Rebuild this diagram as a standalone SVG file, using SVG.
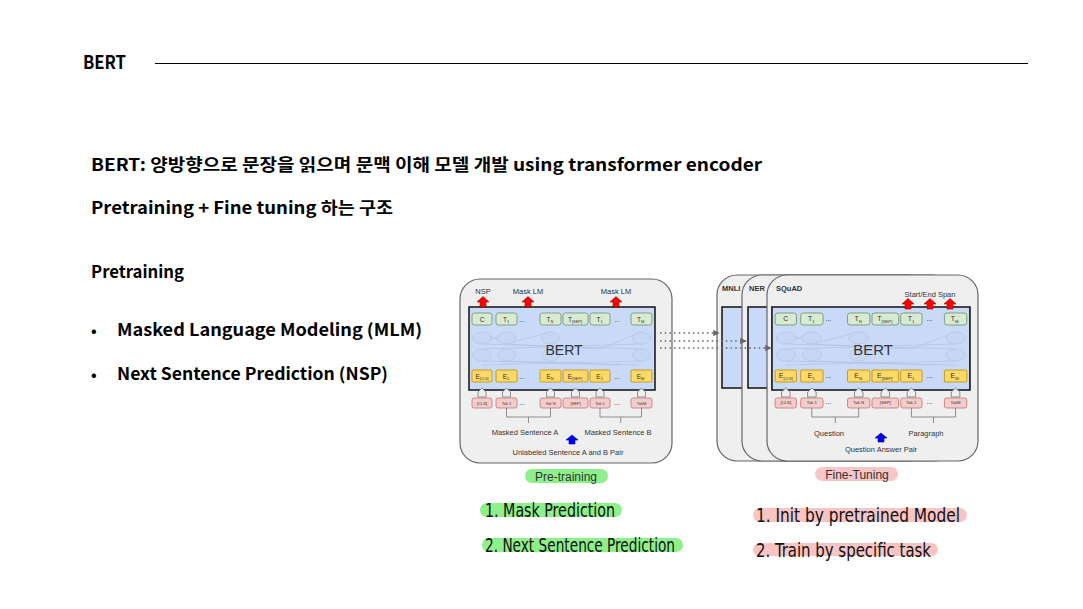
<svg xmlns="http://www.w3.org/2000/svg" xmlns:xlink="http://www.w3.org/1999/xlink" width="1083" height="609" viewBox="0 0 1083 609">
<style>
.kr{font-family:"Noto Sans CJK KR","Liberation Sans",sans-serif;font-weight:bold;fill:#000}
.d{font-family:"Liberation Sans",Arial,sans-serif;fill:#333}
.card{fill:#efefef;stroke:#666;stroke-width:1.2}
.blue{fill:#c9daf8;stroke:#111;stroke-width:1.5}
.tg{fill:#d9ead3;stroke:#6f8f66;stroke-width:0.8}
.ty{fill:#ffd966;stroke:#bf9000;stroke-width:0.8}
.tp{fill:#f4cccc;stroke:#c27777;stroke-width:0.8}
.sm{fill:#eeeeee;stroke:#777;stroke-width:0.8}
.faint{fill:#c6d7f6;stroke:#b3c3e2;stroke-width:0.7}
.fl{stroke:#b0bedb;stroke-width:0.6;fill:none}
.br{stroke:#777;stroke-width:0.8;fill:none}
.red{fill:#ff0000;stroke:#990000;stroke-width:0.6}
.bl{fill:#0000ff;stroke:#000088;stroke-width:0.6}
.hand{font-family:"Liberation Sans Narrow","DejaVu Sans Condensed","Liberation Sans",sans-serif;fill:#111}
.conn{stroke:#666;stroke-width:1.6;stroke-dasharray:1.5 3.2;fill:none}
</style>
<defs>
<marker id="ah" viewBox="0 0 10 10" refX="9" refY="5" markerWidth="4" markerHeight="4" orient="auto" markerUnits="strokeWidth">
<path d="M0 0 L10 5 L0 10 z" fill="#666"/>
</marker>
<g id="enc">
<rect class="blue" x="469" y="307" width="186" height="83"/>
<g class="fl">
<path d="M482 344 L641 349 M482 349 L641 344 M506 344 L600 349 M482 361 L641 365 M482 365 L641 361 M506 361 L620 365"/>
<path d="M482 332 L506 344 M506 332 L482 344 M550 332 L506 344 M641 332 L600 349"/>
</g>
<g class="faint">
<ellipse cx="482" cy="338" rx="9" ry="6"/><ellipse cx="506.5" cy="338" rx="9" ry="6"/><ellipse cx="550.5" cy="338" rx="9" ry="6"/><ellipse cx="641.5" cy="338" rx="9" ry="6"/>
<ellipse cx="482" cy="355" rx="9" ry="6"/><ellipse cx="506.5" cy="355" rx="9" ry="6"/><ellipse cx="550.5" cy="355" rx="9" ry="6"/><ellipse cx="641.5" cy="355" rx="9" ry="6"/>
</g>
<text class="d" x="564" y="355" font-size="14" text-anchor="middle" fill="#111">BERT</text>
<g>
<rect class="tg" x="472" y="313" width="20" height="12" rx="2.5"/>
<rect class="tg" x="496" y="313" width="21" height="12" rx="2.5"/>
<rect class="tg" x="540" y="313" width="21" height="12" rx="2.5"/>
<rect class="tg" x="563" y="313" width="25" height="12" rx="2.5"/>
<rect class="tg" x="590" y="313" width="20" height="12" rx="2.5"/>
<rect class="tg" x="631" y="313" width="21" height="12" rx="2.5"/>
<g class="d" font-size="6.5" text-anchor="middle">
<text x="482" y="321.5">C</text>
<text x="506" y="321.5">T<tspan font-size="4" dy="1.5">1</tspan></text>
<text x="522" y="321.5">...</text>
<text x="550" y="321.5">T<tspan font-size="4" dy="1.5">N</tspan></text>
<text x="575" y="321.5">T<tspan font-size="4" dy="1.5">[SEP]</tspan></text>
<text x="600" y="321.5">T<tspan font-size="4" dy="1.5">1</tspan><tspan font-size="4" dy="-4">'</tspan></text>
<text x="617" y="321.5">...</text>
<text x="641" y="321.5">T<tspan font-size="4" dy="1.5">M</tspan><tspan font-size="4" dy="-4">'</tspan></text>
</g>
</g>
<g>
<rect class="ty" x="472" y="370" width="20" height="12" rx="1"/>
<rect class="ty" x="496" y="370" width="21" height="12" rx="1"/>
<rect class="ty" x="540" y="370" width="21" height="12" rx="1"/>
<rect class="ty" x="563" y="370" width="25" height="12" rx="1"/>
<rect class="ty" x="590" y="370" width="20" height="12" rx="1"/>
<rect class="ty" x="631" y="370" width="21" height="12" rx="1"/>
<g class="d" font-size="6.5" text-anchor="middle">
<text x="482" y="378.5">E<tspan font-size="3.5" dy="1.5">[CLS]</tspan></text>
<text x="506" y="378.5">E<tspan font-size="4" dy="1.5">1</tspan></text>
<text x="522" y="378.5">...</text>
<text x="550" y="378.5">E<tspan font-size="4" dy="1.5">N</tspan></text>
<text x="575" y="378.5">E<tspan font-size="4" dy="1.5">[SEP]</tspan></text>
<text x="600" y="378.5">E<tspan font-size="4" dy="1.5">1</tspan><tspan font-size="4" dy="-4">'</tspan></text>
<text x="617" y="378.5">...</text>
<text x="641" y="378.5">E<tspan font-size="4" dy="1.5">M</tspan><tspan font-size="4" dy="-4">'</tspan></text>
</g>
</g>
<g class="sm">
<path d="M478 397 V392 L482 388 L486 392 V397 z"/>
<path d="M502.5 397 V392 L506.5 388 L510.5 392 V397 z"/>
<path d="M546.5 397 V392 L550.5 388 L554.5 392 V397 z"/>
<path d="M571.5 397 V392 L575.5 388 L579.5 392 V397 z"/>
<path d="M596 397 V392 L600 388 L604 392 V397 z"/>
<path d="M637.5 397 V392 L641.5 388 L645.5 392 V397 z"/>
</g>
<g>
<rect class="tp" x="472" y="398" width="20" height="10" rx="2"/>
<rect class="tp" x="496" y="398" width="21" height="10" rx="2"/>
<rect class="tp" x="540" y="398" width="21" height="10" rx="2"/>
<rect class="tp" x="563" y="398" width="25" height="10" rx="2"/>
<rect class="tp" x="590" y="398" width="20" height="10" rx="2"/>
<rect class="tp" x="631" y="398" width="21" height="10" rx="2"/>
<g class="d" font-size="4" text-anchor="middle">
<text x="482" y="404.5">[CLS]</text>
<text x="506.5" y="404.5">Tok 1</text>
<text x="522" y="404.5" font-size="6.5">...</text>
<text x="550.5" y="404.5">Tok N</text>
<text x="575.5" y="404.5">[SEP]</text>
<text x="600" y="404.5">Tok 1</text>
<text x="617" y="404.5" font-size="6.5">...</text>
<text x="641.5" y="404.5">TokM</text>
</g>
</g>
<path class="br" d="M506.5 408 V417 H550.5 V408 M528.5 417 V423 M600 408 V417 H641.5 V408 M620.75 417 V423"/>
</g>
</defs>

<g id="title">
<text class="kr" x="83" y="69" font-size="19" textLength="43" lengthAdjust="spacingAndGlyphs">BERT</text>
<line x1="155" y1="63.5" x2="1028" y2="63.5" stroke="#000" stroke-width="1"/>
</g>

<g id="summary">
<text class="kr" x="91" y="171" font-size="17" textLength="671" lengthAdjust="spacingAndGlyphs">BERT: 양방향으로 문장을 읽으며 문맥 이해 모델 개발 using transformer encoder</text>
<text class="kr" x="91" y="214" font-size="17" textLength="302" lengthAdjust="spacingAndGlyphs">Pretraining + Fine tuning 하는 구조</text>
</g>

<g id="pretraining-list">
<text class="kr" x="91" y="278" font-size="17" textLength="93" lengthAdjust="spacingAndGlyphs">Pretraining</text>
<text class="kr" x="91" y="336" font-size="15">•</text>
<text class="kr" x="117" y="336" font-size="17" textLength="305" lengthAdjust="spacingAndGlyphs">Masked Language Modeling (MLM)</text>
<text class="kr" x="91" y="380" font-size="15">•</text>
<text class="kr" x="117" y="380" font-size="17" textLength="271" lengthAdjust="spacingAndGlyphs">Next Sentence Prediction (NSP)</text>
</g>

<g id="pretraining-card">
<rect class="card" x="460" y="279" width="212" height="184" rx="20"/>
<use xlink:href="#enc" href="#enc"/>
<g class="d" font-size="7.5" text-anchor="middle">
<text x="483" y="294">NSP</text>
<text x="528" y="294">Mask LM</text>
<text x="616" y="294">Mask LM</text>
<text x="525" y="435">Masked Sentence A</text>
<text x="618" y="435">Masked Sentence B</text>
<text x="568" y="455">Unlabeled Sentence A and B Pair</text>
</g>
<path class="red" d="M480 307 V302 H477 L483 296.5 L489 302 H486 V307 z"/>
<path class="red" d="M525 307 V302 H522 L528 296.5 L534 302 H531 V307 z"/>
<path class="red" d="M613 307 V302 H610 L616 296.5 L622 302 H619 V307 z"/>
<path class="bl" d="M569 444 V440 H566 L572 435 L578 440 H575 V444 z"/>
</g>

<g id="pretraining-tag">
<rect x="525" y="469" width="83" height="14" rx="7" fill="#8ef08a"/>
<text class="d" x="566" y="480.5" font-size="12" text-anchor="middle" fill="#111">Pre-training</text>
</g>

<g id="card-mnli">
<rect class="card" x="717" y="275" width="211" height="186" rx="20"/>
<rect class="blue" x="722" y="307" width="40" height="81"/>
<text class="d" x="722" y="291" font-size="7.5" font-weight="bold" fill="#222">MNLI</text>
</g>
<g id="card-ner">
<rect class="card" x="742" y="275" width="211" height="186" rx="20"/>
<rect class="blue" x="748" y="307" width="40" height="81"/>
<text class="d" x="749" y="291" font-size="7.5" font-weight="bold" fill="#222">NER</text>
</g>
<g id="card-squad">
<rect class="card" x="767" y="275" width="211" height="186" rx="20"/>
<use xlink:href="#enc" href="#enc" transform="translate(272.7 0) scale(1.0645 1)"/>
<text class="d" x="776" y="291" font-size="7.5" font-weight="bold" fill="#222">SQuAD</text>
<g class="d" font-size="7.5" text-anchor="middle">
<text x="930" y="297">Start/End Span</text>
<text x="829" y="436">Question</text>
<text x="926" y="436">Paragraph</text>
<text x="881" y="452">Question Answer Pair</text>
</g>
<path class="red" d="M905 309 V304 H902 L908 298.5 L914 304 H911 V309 z"/>
<path class="red" d="M927 309 V304 H924 L930 298.5 L936 304 H933 V309 z"/>
<path class="red" d="M947 309 V304 H944 L950 298.5 L956 304 H953 V309 z"/>
<path class="bl" d="M878 442 V438 H875 L881 433 L887 438 H884 V442 z"/>
</g>

<g id="finetuning-tag">
<rect x="815" y="467" width="83" height="14" rx="7" fill="#f7c6c6"/>
<text class="d" x="857" y="478.5" font-size="12" text-anchor="middle" fill="#111">Fine-Tuning</text>
</g>

<g id="connectors">
<path class="conn" d="M660 333 H719" marker-end="url(#ah)"/>
<path class="conn" d="M660 341 H746" marker-end="url(#ah)"/>
<path class="conn" d="M660 348 H771" marker-end="url(#ah)"/>
</g>

<g id="notes-pretraining">
<rect x="480" y="503" width="142" height="14" rx="7" fill="#8ef08a"/>
<text class="hand" x="485" y="517" font-size="20" textLength="130" lengthAdjust="spacingAndGlyphs">1. Mask Prediction</text>
<rect x="482" y="538" width="201" height="14" rx="7" fill="#8ef08a"/>
<text class="hand" x="485" y="552" font-size="20" textLength="190" lengthAdjust="spacingAndGlyphs">2. Next Sentence Prediction</text>
</g>

<g id="notes-finetuning">
<rect x="753" y="508" width="214" height="14" rx="7" fill="#f8c4c4"/>
<text class="hand" x="756" y="522" font-size="20" textLength="204" lengthAdjust="spacingAndGlyphs">1. Init by pretrained Model</text>
<rect x="753" y="543" width="185" height="13" rx="6.5" fill="#f8c4c4"/>
<text class="hand" x="756" y="557" font-size="20" textLength="175" lengthAdjust="spacingAndGlyphs">2. Train by specific task</text>
</g>
</svg>
